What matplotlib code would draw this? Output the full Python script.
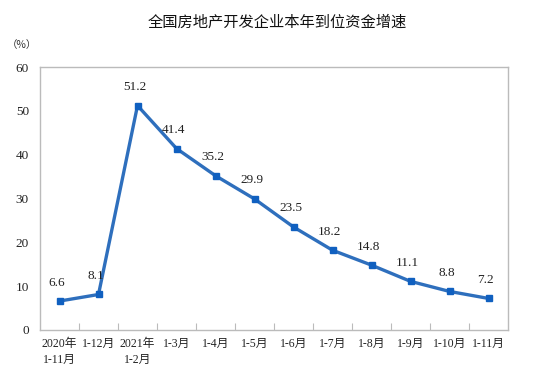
import matplotlib
matplotlib.use("Agg")
import matplotlib.pyplot as plt

categories = ["2020年\n1-11月", "1-12月", "2021年\n1-2月", "1-3月", "1-4月", "1-5月",
              "1-6月", "1-7月", "1-8月", "1-9月", "1-10月", "1-11月"]
values = [6.6, 8.1, 51.2, 41.4, 35.2, 29.9, 23.5, 18.2, 14.8, 11.1, 8.8, 7.2]
yticks = [0, 10, 20, 30, 40, 50, 60]

fam = ["Liberation Serif", "Noto Sans CJK SC"]
fig = plt.figure(figsize=(5.54, 3.90), dpi=100)
ax = fig.add_axes([40/554, 60/390, 468/554, 263/390])

x = list(range(len(values)))
ax.plot(x, values, color="#2e6fbd", lw=2.4, marker="s", ms=4.5,
        mfc="#1060c0", mec="#1060c0", zorder=3)
for xi, v in zip(x, values):
    ax.annotate(f"{v}", (xi, v), xytext=(-2, 9), textcoords="offset points",
                ha="center", va="bottom", fontsize=9.5, family=fam, color="#222222")

ax.set_xlim(-0.5, len(values) - 0.5)
ax.set_ylim(0, 60)
ax.set_yticks(yticks)
ax.set_yticklabels([str(t) for t in yticks], family=fam, fontsize=9.5, color="#222222")
ax.tick_params(axis="y", length=0, pad=8)
ax.set_xticks([i + 0.5 for i in range(len(values) - 1)])
ax.set_xticklabels([])
ax.set_xticks(x, minor=True)
ax.set_xticklabels(categories, minor=True, family=fam, fontsize=8.5, color="#222222",
                   linespacing=1.35)
ax.tick_params(axis="x", which="major", direction="in", length=5, color="#bbbbbb")
ax.tick_params(axis="x", which="minor", length=0, pad=6)
for s in ax.spines.values():
    s.set_color("#bbbbbb")
    s.set_linewidth(1.0)

fig.text(0.5, 1 - 22/390, "全国房地产开发企业本年到位资金增速", ha="center", va="center",
         fontsize=11, family=["Noto Sans CJK SC", "DejaVu Sans"], color="#111111")
fig.text(22/554, 1 - 45/390, "（%）", ha="center", va="center", fontsize=7.5,
         family=["Noto Sans CJK SC", "DejaVu Sans"], color="#333333")

fig.savefig("out.png", dpi=100)
